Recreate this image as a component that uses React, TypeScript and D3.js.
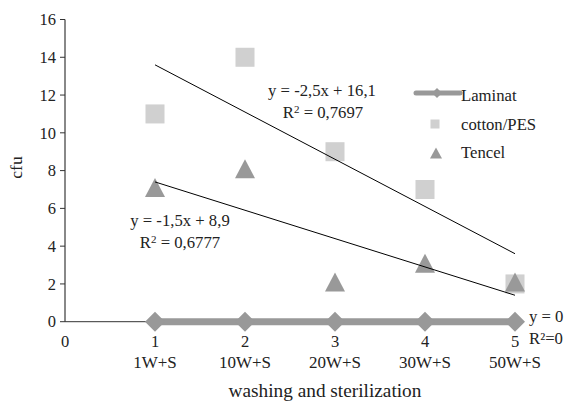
import React from "react";
import * as d3 from "d3";

const xValues = [1, 2, 3, 4, 5];
const categories = ["1W+S", "10W+S", "20W+S", "30W+S", "50W+S"];
const laminat = [0, 0, 0, 0, 0];
const cottonPES = [11, 14, 9, 7, 2];
const tencel = [7, 8, 2, 3, 2];
const yTicks = [0, 2, 4, 6, 8, 10, 12, 14, 16];
const xTicks = [0, 1, 2, 3, 4, 5];
const cottonTrend = { slope: -2.5, intercept: 16.1, eq: "y = -2,5x + 16,1", r2: "0,7697" };
const tencelTrend = { slope: -1.5, intercept: 8.9, eq: "y = -1,5x + 8,9", r2: "0,6777" };

export default function App() {
  const W = 566, H = 402;
  const x = d3.scaleLinear().domain([0, 5]).range([65, 515]);
  const y = d3.scaleLinear().domain([0, 16]).range([321.7, 19.5]);
  const font = "'Liberation Serif', 'Times New Roman', serif";
  const txt = "#222";
  const markGray = "#999";
  const sqGray = "#d0d0d0";
  const fs = 16.7;
  const line = d3.line<[number, number]>().x(d => x(d[0])).y(d => y(d[1]));
  const lamPts: [number, number][] = xValues.map((v, i) => [v, laminat[i]]);
  const tri = (cx: number, cy: number, w: number, h: number) =>
    `M${cx},${cy - h * 0.6} L${cx + w / 2},${cy + h * 0.4} L${cx - w / 2},${cy + h * 0.4} Z`;
  const diamond = (cx: number, cy: number, r: number) =>
    `M${cx},${cy - r} L${cx + r},${cy} L${cx},${cy + r} L${cx - r},${cy} Z`;
  const trendPts = (t: { slope: number; intercept: number }) =>
    [1, 5].map(v => [v, t.slope * v + t.intercept] as [number, number]);
  return (
    <svg width={W} height={H} style={{ position: "absolute", left: 0, top: 0 }} fontFamily={font}>
      <rect width={W} height={H} fill="#fff" />
      {/* y axis */}
      <line x1={x(0)} x2={x(0)} y1={y(16)} y2={y(0)} stroke="#888" strokeWidth={2} />
      {yTicks.map(t => (
        <g key={t}>
          <line x1={x(0) - 5} x2={x(0)} y1={y(t)} y2={y(t)} stroke="#333" strokeWidth={1} />
          <text x={x(0) - 9} y={y(t)} dy="0.35em" textAnchor="end" fontSize={16.5} fill={txt}>{t}</text>
        </g>
      ))}
      {/* x axis */}
      <line x1={x(0)} x2={x(5)} y1={y(0)} y2={y(0)} stroke="#333" strokeWidth={1} />
      {xTicks.map(t => (
        <text key={t} x={x(t)} y={341.7} dy="0.35em" textAnchor="middle" fontSize={16.5} fill={txt}>{t}</text>
      ))}
      {categories.map((c, i) => (
        <text key={c} x={x(xValues[i])} y={362} dy="0.35em" textAnchor="middle" fontSize={17} fill={txt}>{c}</text>
      ))}
      <text x={325} y={390.3} dy="0.35em" textAnchor="middle" fontSize={19.3} fill={txt}>washing and sterilization</text>
      <text transform={`translate(15.5,167.5) rotate(-90)`} dy="0.35em" textAnchor="middle" fontSize={17.5} fill={txt}>cfu</text>
      {/* cotton squares */}
      {cottonPES.map((v, i) => (
        <rect key={i} x={x(xValues[i]) - 9.5} y={y(v) - 9.5} width={19} height={19} fill={sqGray} />
      ))}
      {/* tencel triangles */}
      {tencel.map((v, i) => (
        <path key={i} d={tri(x(xValues[i]), y(v), 20, 19)} fill={markGray} />
      ))}
      {/* laminat */}
      <path d={line(lamPts) || ""} stroke={markGray} strokeWidth={7} fill="none" />
      {laminat.map((v, i) => (
        <path key={i} d={diamond(x(xValues[i]), y(v), 10)} fill={markGray} />
      ))}
      {/* trend lines */}
      <path d={line(trendPts(cottonTrend)) || ""} stroke="#000" strokeWidth={1} fill="none" />
      <path d={line(trendPts(tencelTrend)) || ""} stroke="#000" strokeWidth={1} fill="none" />
      {/* equations */}
      <text x={322} y={90} dy="0.35em" textAnchor="middle" fontSize={fs} fill={txt}>{cottonTrend.eq}</text>
      <text x={323} y={112} dy="0.35em" textAnchor="middle" fontSize={fs} fill={txt}>R<tspan dy="-5" fontSize={11}>2</tspan><tspan dy="5"> = {cottonTrend.r2}</tspan></text>
      <text x={180} y={220} dy="0.35em" textAnchor="middle" fontSize={fs} fill={txt}>{tencelTrend.eq}</text>
      <text x={180} y={242} dy="0.35em" textAnchor="middle" fontSize={fs} fill={txt}>R<tspan dy="-5" fontSize={11}>2</tspan><tspan dy="5"> = {tencelTrend.r2}</tspan></text>
      <text x={529} y={316} dy="0.35em" fontSize={fs} fill={txt}>y = 0</text>
      <text x={529} y={338} dy="0.35em" fontSize={fs} fill={txt}>R²=0</text>
      {/* legend */}
      <line x1={416} x2={460} y1={93} y2={93} stroke={markGray} strokeWidth={5} strokeLinecap="round" />
      <path d={diamond(437, 93, 5)} fill={markGray} />
      <text x={461} y={95} dy="0.35em" fontSize={fs} fill={txt}>Laminat</text>
      <rect x={430.5} y={119.5} width={9} height={9} fill={sqGray} />
      <text x={461} y={124} dy="0.35em" fontSize={fs} fill={txt}>cotton/PES</text>
      <path d={tri(436, 154, 12, 11)} fill={markGray} />
      <text x={461} y={152} dy="0.35em" fontSize={fs} fill={txt}>Tencel</text>
    </svg>
  );
}
